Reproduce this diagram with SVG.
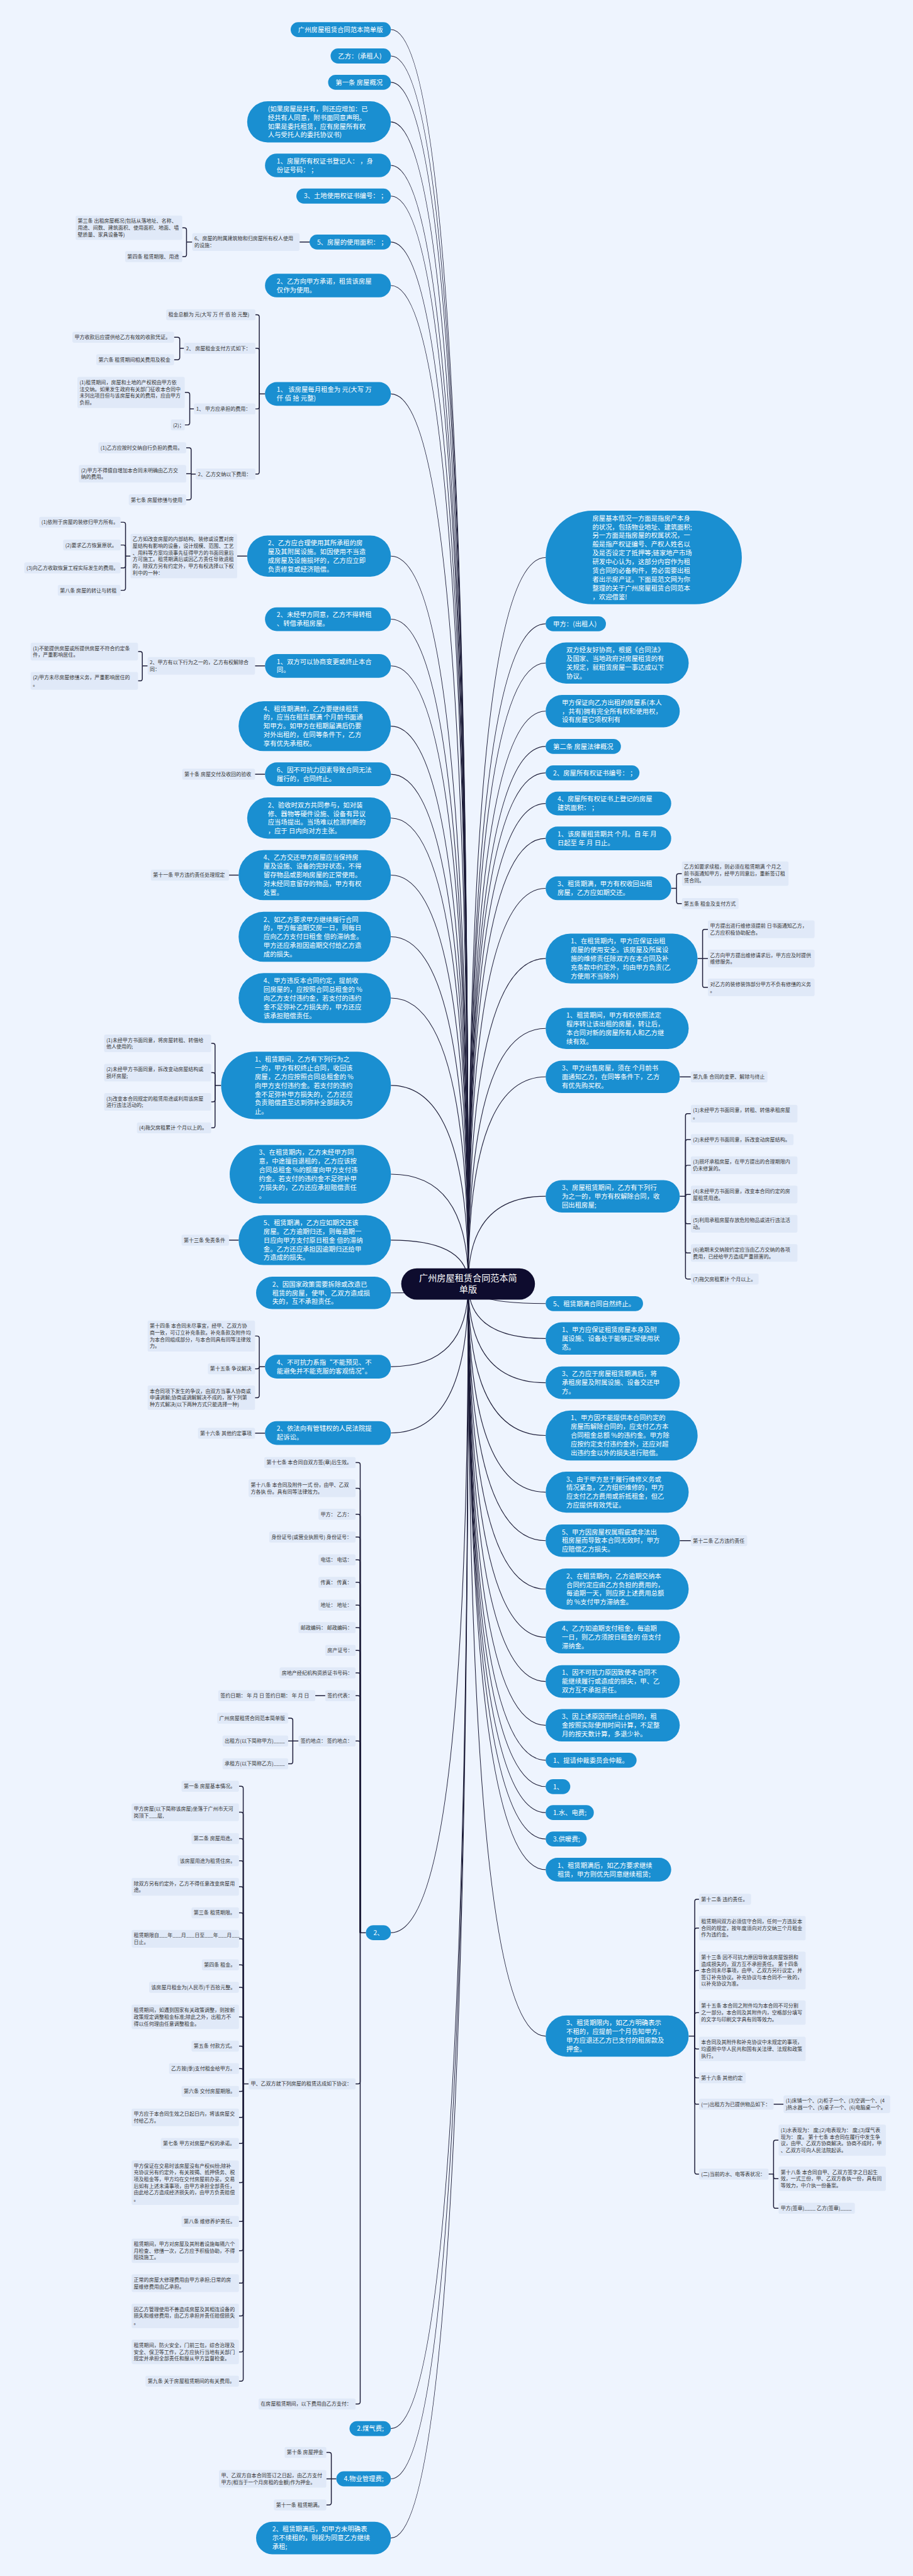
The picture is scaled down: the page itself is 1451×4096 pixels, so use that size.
<svg xmlns="http://www.w3.org/2000/svg" width="1451" height="4096" viewBox="0 0 1451 4096">
<style>
.bn{fill:#1a8fd1}
.cnode{fill:#0e0c2e}
.lf{fill:#e0e9f8}
.bt{font-family:"Noto Sans CJK SC","Noto Sans",sans-serif;font-size:18.3px;fill:#ffffff}
.lt{font-family:"Noto Sans CJK SC","Noto Sans",sans-serif;font-size:14.2px;fill:#333333}
.ct{font-family:"Noto Sans CJK SC","Noto Sans",sans-serif;font-size:25px;fill:#ffffff;text-anchor:middle}
.cn path{fill:none;stroke:#1c1c38;stroke-width:2}
.br path{fill:none;stroke:#1c1c38;stroke-width:2.6}
</style>
<rect x="0" y="0" width="1451" height="4096" fill="#eef4fe"/>
<g transform="scale(0.5668)">
<g id="connectors">
<g class="cn">
<path d="M1313 3602Q1313 83 1096 83"/><path d="M1313 3602Q1313 157 1096 157"/><path d="M1313 3602Q1313 231 1096 231"/><path d="M1313 3602Q1313 342 1096 342"/><path d="M1313 3602Q1313 464 1096 464"/><path d="M1313 3602Q1313 550 1096 550"/><path d="M1313 3602Q1313 679 1096 679"/><path d="M1313 3602Q1313 801 1096 801"/><path d="M1313 3602Q1313 1105 1096 1105"/><path d="M1313 3602Q1313 1560 1096 1560"/><path d="M1313 3602Q1313 1737 1096 1737"/><path d="M1313 3602Q1313 1868 1096 1868"/><path d="M1313 3602Q1313 2037 1096 2037"/><path d="M1313 3602Q1313 2172 1096 2172"/><path d="M1313 3602Q1313 2295 1096 2295"/><path d="M1313 3602Q1313 2455 1096 2455"/><path d="M1313 3602Q1313 2628 1096 2628"/><path d="M1313 3602Q1313 2800 1096 2800"/><path d="M1313 3602Q1313 3045 1096 3045"/><path d="M1313 3602Q1313 3294 1096 3294"/><path d="M1313 3602Q1313 3479 1096 3479"/><path d="M1313 3602Q1313 3627 1096 3627"/><path d="M1313 3602Q1313 3834 1096 3834"/><path d="M1313 3602Q1313 4020 1096 4020"/><path d="M1313 3602Q1313 5422 1096 5422"/><path d="M1313 3602Q1313 6813 1096 6813"/><path d="M1313 3602Q1313 6954 1096 6954"/><path d="M1313 3602Q1313 7120 1096 7120"/>
<path d="M1313 3602Q1313 1564 1530 1564"/><path d="M1313 3602Q1313 1750 1530 1750"/><path d="M1313 3602Q1313 1860 1530 1860"/><path d="M1313 3602Q1313 1995 1530 1995"/><path d="M1313 3602Q1313 2094 1530 2094"/><path d="M1313 3602Q1313 2168 1530 2168"/><path d="M1313 3602Q1313 2254 1530 2254"/><path d="M1313 3602Q1313 2352 1530 2352"/><path d="M1313 3602Q1313 2492 1530 2492"/><path d="M1313 3602Q1313 2689 1530 2689"/><path d="M1313 3602Q1313 2885 1530 2885"/><path d="M1313 3602Q1313 3021 1530 3021"/><path d="M1313 3602Q1313 3356 1530 3356"/><path d="M1313 3602Q1313 3657 1530 3657"/><path d="M1313 3602Q1313 3755 1530 3755"/><path d="M1313 3602Q1313 3879 1530 3879"/><path d="M1313 3602Q1313 4027 1530 4027"/><path d="M1313 3602Q1313 4186 1530 4186"/><path d="M1313 3602Q1313 4322 1530 4322"/><path d="M1313 3602Q1313 4458 1530 4458"/><path d="M1313 3602Q1313 4593 1530 4593"/><path d="M1313 3602Q1313 4717 1530 4717"/><path d="M1313 3602Q1313 4840 1530 4840"/><path d="M1313 3602Q1313 4938 1530 4938"/><path d="M1313 3602Q1313 5012 1530 5012"/><path d="M1313 3602Q1313 5085 1530 5085"/><path d="M1313 3602Q1313 5159 1530 5159"/><path d="M1313 3602Q1313 5245 1530 5245"/><path d="M1313 3602Q1313 5712 1530 5712"/>
</g>
<g class="br">
<path d="M840 679H868"/>
<path d="M511 639H517Q523 639 523 645V679"/><path d="M511 720H517Q523 720 523 714V679"/><path d="M523 679H539"/>
<path d="M716 883H721Q727 883 727 889V1105"/><path d="M716 977H721Q727 977 727 983V1105"/><path d="M716 1147H721Q727 1147 727 1141V1105"/><path d="M716 1330H721Q727 1330 727 1324V1105"/><path d="M727 1105H743"/>
<path d="M488 946H498Q504 946 504 952V977"/><path d="M488 1009H498Q504 1009 504 1003V977"/><path d="M504 977H516"/>
<path d="M518 1101H526Q532 1101 532 1107V1147"/><path d="M518 1192H526Q532 1192 532 1186V1147"/><path d="M532 1147H544"/>
<path d="M522 1256H530Q536 1256 536 1262V1330"/><path d="M522 1329H536"/><path d="M522 1402H530Q536 1402 536 1396V1330"/><path d="M536 1330H549"/>
<path d="M665 1560H693"/>
<path d="M338 1465H346Q352 1465 352 1471V1560"/><path d="M338 1529H346Q352 1529 352 1535V1560"/><path d="M338 1593H346Q352 1593 352 1587V1560"/><path d="M338 1656H346Q352 1656 352 1650V1560"/><path d="M352 1560H366"/>
<path d="M715 1868H743"/>
<path d="M387 1828H393Q399 1828 399 1834V1868"/><path d="M387 1910H393Q399 1910 399 1904V1868"/><path d="M399 1868H414"/>
<path d="M715 2172H743"/>
<path d="M642 2455H669"/>
<path d="M592 2927H597Q603 2927 603 2933V3045"/><path d="M592 3009H597Q603 3009 603 3015V3045"/><path d="M592 3091H597Q603 3091 603 3085V3045"/><path d="M592 3164H597Q603 3164 603 3158V3045"/><path d="M603 3045H620"/>
<path d="M642 3479H669"/>
<path d="M715 3748H721Q727 3748 727 3754V3834"/><path d="M715 3840H721Q727 3840 727 3834"/><path d="M715 3921H721Q727 3921 727 3915V3834"/><path d="M727 3834H743"/>
<path d="M715 4020.5H743"/>
<path d="M997 4103H1004Q1010 4103 1010 4109V5422"/><path d="M997 4175H1004Q1010 4175 1010 4181V5422"/><path d="M997 4248H1004Q1010 4248 1010 4254V5422"/><path d="M997 4312H1004Q1010 4312 1010 4318V5422"/><path d="M997 4376H1004Q1010 4376 1010 4382V5422"/><path d="M997 4439H1004Q1010 4439 1010 4445V5422"/><path d="M997 4503H1004Q1010 4503 1010 4509V5422"/><path d="M997 4566H1004Q1010 4566 1010 4572V5422"/><path d="M997 4630H1004Q1010 4630 1010 4636V5422"/><path d="M997 4693H1004Q1010 4693 1010 4699V5422"/><path d="M997 4757H1004Q1010 4757 1010 4763V5422"/><path d="M997 4884H1004Q1010 4884 1010 4890V5422"/><path d="M997 5846H1004Q1010 5846 1010 5840V5422"/><path d="M997 6744H1004Q1010 6744 1010 6738V5422"/><path d="M1010 5422H1026"/>
<path d="M884 4757H912"/>
<path d="M808 4820H815Q821 4820 821 4826V4884"/><path d="M808 4884H837"/><path d="M808 4948H815Q821 4948 821 4942V4884"/>
<path d="M670 5011H676Q682 5011 682 5017V5846"/><path d="M670 5084H676Q682 5084 682 5090V5846"/><path d="M670 5158H676Q682 5158 682 5164V5846"/><path d="M670 5220H676Q682 5220 682 5226V5846"/><path d="M670 5293H676Q682 5293 682 5299V5846"/><path d="M670 5366H676Q682 5366 682 5372V5846"/><path d="M670 5439H676Q682 5439 682 5445V5846"/><path d="M670 5512H676Q682 5512 682 5518V5846"/><path d="M670 5575H676Q682 5575 682 5581V5846"/><path d="M670 5658H676Q682 5658 682 5664V5846"/><path d="M670 5740H676Q682 5740 682 5746V5846"/><path d="M670 5803H676Q682 5803 682 5809V5846"/><path d="M670 5867H676Q682 5867 682 5861V5846"/><path d="M670 5940H676Q682 5940 682 5934V5846"/><path d="M670 6013H676Q682 6013 682 6007V5846"/><path d="M670 6123H676Q682 6123 682 6117V5846"/><path d="M670 6232H676Q682 6232 682 6226V5846"/><path d="M670 6314H676Q682 6314 682 6308V5846"/><path d="M670 6405H676Q682 6405 682 6399V5846"/><path d="M670 6497H676Q682 6497 682 6491V5846"/><path d="M670 6598H676Q682 6598 682 6592V5846"/><path d="M670 6680H676Q682 6680 682 6674V5846"/><path d="M682 5846H697"/>
<path d="M915 6880H923Q929 6880 929 6886V6954"/><path d="M915 6954H943"/><path d="M915 7027H923Q929 7027 929 7021V6954"/>
<path d="M1912 2451H1903Q1897 2451 1897 2457V2492"/><path d="M1912 2535H1903Q1897 2535 1897 2529V2492"/><path d="M1882 2492H1897"/>
<path d="M1985 2607H1976Q1970 2607 1970 2613V2689"/><path d="M1985 2689H1956"/><path d="M1985 2770H1976Q1970 2770 1970 2764V2689"/>
<path d="M1906 3021H1937"/>
<path d="M1937 3124H1928Q1922 3124 1922 3130V3356"/><path d="M1937 3197H1928Q1922 3197 1922 3203V3356"/><path d="M1937 3269H1928Q1922 3269 1922 3275V3356"/><path d="M1937 3351H1927Q1922 3351 1922 3356"/><path d="M1937 3433H1928Q1922 3433 1922 3427V3356"/><path d="M1937 3515H1928Q1922 3515 1922 3509V3356"/><path d="M1937 3588H1928Q1922 3588 1922 3582V3356"/><path d="M1906 3356H1922"/>
<path d="M1906 4322H1937"/>
<path d="M1960 5328H1954Q1948 5328 1948 5334V5712"/><path d="M1960 5409H1954Q1948 5409 1948 5415V5712"/><path d="M1960 5528H1954Q1948 5528 1948 5534V5712"/><path d="M1960 5646H1954Q1948 5646 1948 5652V5712"/><path d="M1960 5748H1954Q1948 5748 1948 5742V5712"/><path d="M1960 5829H1954Q1948 5829 1948 5823V5712"/><path d="M1960 5903H1954Q1948 5903 1948 5897V5712"/><path d="M1960 6099H1954Q1948 6099 1948 6093V5712"/><path d="M1931 5712H1948"/>
<path d="M2169 5903H2197"/>
<path d="M2183 6004H2175Q2169 6004 2169 6010V6099"/><path d="M2183 6112H2175Q2169 6112 2169 6106V6099"/><path d="M2183 6195H2175Q2169 6195 2169 6189V6099"/><path d="M2155 6099H2169"/>
</g>
</g>
<g id="nodes">
<g id="center"><rect class="cnode" x="1125" y="3558" width="375" height="88" rx="44"/><text class="ct" x="1312.5" y="3594"><tspan x="1312.5">广州房屋租赁合同范本简</tspan><tspan x="1312.5" dy="32">单版</tspan></text></g>

<g id="L1"><rect class="bn" x="815" y="62" width="281" height="42" rx="21"/><text class="bt" x="836" y="89.6">广州房屋租赁合同范本简单版</text></g>
<g id="L2"><rect class="bn" x="927" y="136" width="169" height="42" rx="21"/><text class="bt" x="948" y="163.6">乙方：(承租人)</text></g>
<g id="L3"><rect class="bn" x="920" y="210" width="176" height="42" rx="21"/><text class="bt" x="941" y="237.6">第一条 房屋概况</text></g>
<g id="L4"><rect class="bn" x="693" y="284.25" width="403" height="115.5" rx="57.75"/><text class="bt" x="751" y="311.85"><tspan x="751">(如果房屋是共有，则还应增加：已</tspan><tspan x="751" dy="24.5">经共有人同意，附书面同意声明。</tspan><tspan x="751" dy="24.5">如果是委托租赁，应有房屋所有权</tspan><tspan x="751" dy="24.5">人与受托人的委托协议书)</tspan></text></g>
<g id="L5"><rect class="bn" x="743" y="430.75" width="353" height="66.5" rx="33.25"/><text class="bt" x="776" y="458.35"><tspan x="776">1、房屋所有权证书登记人： ，身</tspan><tspan x="776" dy="24.5">份证号码： ；</tspan></text></g>
<g id="L6"><rect class="bn" x="831" y="529" width="265" height="42" rx="21"/><text class="bt" x="852" y="556.6">3、土地使用权证书编号： ；</text></g>
<g id="L7"><rect class="bn" x="868" y="658" width="228" height="42" rx="21"/><text class="bt" x="889" y="685.6">5、房屋的使用面积： ；</text></g>
<g id="L8"><rect class="bn" x="743" y="767.75" width="353" height="66.5" rx="33.25"/><text class="bt" x="776" y="795.35"><tspan x="776">2、乙方向甲方承诺，租赁该房屋</tspan><tspan x="776" dy="24.5">仅作为使用。</tspan></text></g>
<g id="L9"><rect class="bn" x="743" y="1071.75" width="353" height="66.5" rx="33.25"/><text class="bt" x="776" y="1099.35"><tspan x="776">1、 该房屋每月租金为 元(大写 万</tspan><tspan x="776" dy="24.5">仟 佰 拾 元整)</tspan></text></g>
<g id="L10"><rect class="bn" x="693" y="1502.25" width="403" height="115.5" rx="57.75"/><text class="bt" x="751" y="1529.85"><tspan x="751">2、乙方应合理使用其所承租的房</tspan><tspan x="751" dy="24.5">屋及其附属设施。如因使用不当造</tspan><tspan x="751" dy="24.5">成房屋及设施损坏的，乙方应立即</tspan><tspan x="751" dy="24.5">负责修复或经济赔偿。</tspan></text></g>
<g id="L11"><rect class="bn" x="743" y="1703.75" width="353" height="66.5" rx="33.25"/><text class="bt" x="776" y="1731.35"><tspan x="776">2、未经甲方同意，乙方不得转租</tspan><tspan x="776" dy="24.5">、转借承租房屋。</tspan></text></g>
<g id="L12"><rect class="bn" x="743" y="1834.75" width="353" height="66.5" rx="33.25"/><text class="bt" x="776" y="1862.35"><tspan x="776">1、双方可以协商变更或终止本合</tspan><tspan x="776" dy="24.5">同。</tspan></text></g>
<g id="L13"><rect class="bn" x="669" y="1967" width="427" height="140" rx="70"/><text class="bt" x="739" y="1994.6"><tspan x="739">4、租赁期满前，乙方要继续租赁</tspan><tspan x="739" dy="24.5">的，应当在租赁期满 个月前书面通</tspan><tspan x="739" dy="24.5">知甲方。如甲方在租期届满后仍要</tspan><tspan x="739" dy="24.5">对外出租的，在同等条件下，乙方</tspan><tspan x="739" dy="24.5">享有优先承租权。</tspan></text></g>
<g id="L14"><rect class="bn" x="743" y="2138.75" width="353" height="66.5" rx="33.25"/><text class="bt" x="776" y="2166.35"><tspan x="776">6、因不可抗力因素导致合同无法</tspan><tspan x="776" dy="24.5">履行的，合同终止。</tspan></text></g>
<g id="L15"><rect class="bn" x="693" y="2237.25" width="403" height="115.5" rx="57.75"/><text class="bt" x="751" y="2264.85"><tspan x="751">2、验收时双方共同参与，如对装</tspan><tspan x="751" dy="24.5">修、器物等硬件设施、设备有异议</tspan><tspan x="751" dy="24.5">应当场提出。当场难以检测判断的</tspan><tspan x="751" dy="24.5">，应于 日内向对方主张。</tspan></text></g>
<g id="L16"><rect class="bn" x="669" y="2385" width="427" height="140" rx="70"/><text class="bt" x="739" y="2412.6"><tspan x="739">4、乙方交还甲方房屋应当保持房</tspan><tspan x="739" dy="24.5">屋及设施、设备的完好状态，不得</tspan><tspan x="739" dy="24.5">留存物品或影响房屋的正常使用。</tspan><tspan x="739" dy="24.5">对未经同意留存的物品，甲方有权</tspan><tspan x="739" dy="24.5">处置。</tspan></text></g>
<g id="L17"><rect class="bn" x="669" y="2558" width="427" height="140" rx="70"/><text class="bt" x="739" y="2585.6"><tspan x="739">2、如乙方要求甲方继续履行合同</tspan><tspan x="739" dy="24.5">的，甲方每逾期交房一日，则每日</tspan><tspan x="739" dy="24.5">应向乙方支付日租金 倍的滞纳金。</tspan><tspan x="739" dy="24.5">甲方还应承担因逾期交付给乙方造</tspan><tspan x="739" dy="24.5">成的损失。</tspan></text></g>
<g id="L18"><rect class="bn" x="669" y="2730" width="427" height="140" rx="70"/><text class="bt" x="739" y="2757.6"><tspan x="739">4、甲方违反本合同约定，提前收</tspan><tspan x="739" dy="24.5">回房屋的，应按照合同总租金的 %</tspan><tspan x="739" dy="24.5">向乙方支付违约金，若支付的违约</tspan><tspan x="739" dy="24.5">金不足弥补乙方损失的，甲方还应</tspan><tspan x="739" dy="24.5">该承担赔偿责任。</tspan></text></g>
<g id="L19"><rect class="bn" x="620" y="2950.5" width="476" height="189" rx="94.5"/><text class="bt" x="714.5" y="2978.1"><tspan x="714.5">1、租赁期间，乙方有下列行为之</tspan><tspan x="714.5" dy="24.5">一的，甲方有权终止合同，收回该</tspan><tspan x="714.5" dy="24.5">房屋，乙方应按照合同总租金的 %</tspan><tspan x="714.5" dy="24.5">向甲方支付违约金。若支付的违约</tspan><tspan x="714.5" dy="24.5">金不足弥补甲方损失的，乙方还应</tspan><tspan x="714.5" dy="24.5">负责赔偿直至达到弥补全部损失为</tspan><tspan x="714.5" dy="24.5">止。</tspan></text></g>
<g id="L20"><rect class="bn" x="644" y="3211.75" width="452" height="164.5" rx="82.25"/><text class="bt" x="726" y="3239.35"><tspan x="726">3、在租赁期内，乙方未经甲方同</tspan><tspan x="726" dy="24.5">意，中途擅自退租的，乙方应该按</tspan><tspan x="726" dy="24.5">合同总租金 %的额度向甲方支付违</tspan><tspan x="726" dy="24.5">约金。若支付的违约金不足弥补甲</tspan><tspan x="726" dy="24.5">方损失的，乙方还应承担赔偿责任</tspan><tspan x="726" dy="24.5">。</tspan></text></g>
<g id="L21"><rect class="bn" x="669" y="3409" width="427" height="140" rx="70"/><text class="bt" x="739" y="3436.6"><tspan x="739">5、租赁期满，乙方应如期交还该</tspan><tspan x="739" dy="24.5">房屋。乙方逾期归还，则每逾期一</tspan><tspan x="739" dy="24.5">日应向甲方支付原日租金 倍的滞纳</tspan><tspan x="739" dy="24.5">金。乙方还应承担因逾期归还给甲</tspan><tspan x="739" dy="24.5">方造成的损失。</tspan></text></g>
<g id="L22"><rect class="bn" x="718" y="3581.5" width="378" height="91" rx="45.5"/><text class="bt" x="763.5" y="3609.1"><tspan x="763.5">2、因国家政策需要拆除或改造已</tspan><tspan x="763.5" dy="24.5">租赁的房屋，使甲、乙双方造成损</tspan><tspan x="763.5" dy="24.5">失的，互不承担责任。</tspan></text></g>
<g id="L23"><rect class="bn" x="743" y="3800.75" width="353" height="66.5" rx="33.25"/><text class="bt" x="776" y="3828.35"><tspan x="776">4、不可抗力系指“不能预见、不</tspan><tspan x="776" dy="24.5">能避免并不能克服的客观情况”。</tspan></text></g>
<g id="L24"><rect class="bn" x="743" y="3986.75" width="353" height="66.5" rx="33.25"/><text class="bt" x="776" y="4014.35"><tspan x="776">2、依法向有管辖权的人民法院提</tspan><tspan x="776" dy="24.5">起诉讼。</tspan></text></g>
<g id="L25"><rect class="bn" x="1026" y="5401" width="70" height="42" rx="21"/><text class="bt" x="1047" y="5428.6">2、</text></g>
<g id="L26"><rect class="bn" x="980" y="6792" width="116" height="42" rx="21"/><text class="bt" x="1001" y="6819.6">2.煤气费;</text></g>
<g id="L27"><rect class="bn" x="943" y="6933" width="153" height="42" rx="21"/><text class="bt" x="964" y="6960.6">4.物业管理费;</text></g>
<g id="L28"><rect class="bn" x="718" y="7074.5" width="378" height="91" rx="45.5"/><text class="bt" x="763.5" y="7102.1"><tspan x="763.5">2、租赁期满后，如甲方未明确表</tspan><tspan x="763.5" dy="24.5">示不续租的，则视为同意乙方继续</tspan><tspan x="763.5" dy="24.5">承租;</tspan></text></g>

<g id="R1"><rect class="bn" x="1530" y="1432.75" width="550" height="262.5" rx="131.25"/><text class="bt" x="1661" y="1460.35"><tspan x="1661">房屋基本情况一方面是指房产本身</tspan><tspan x="1661" dy="24.5">的状况，包括物业地址、建筑面积;</tspan><tspan x="1661" dy="24.5">另一方面是指房屋的权属状况，一</tspan><tspan x="1661" dy="24.5">般是指产权证编号、产权人姓名以</tspan><tspan x="1661" dy="24.5">及是否设定了抵押等;链家地产市场</tspan><tspan x="1661" dy="24.5">研发中心认为，这部分内容作为租</tspan><tspan x="1661" dy="24.5">赁合同的必备构件，势必需要出租</tspan><tspan x="1661" dy="24.5">者出示房产证。下面是范文网为你</tspan><tspan x="1661" dy="24.5">整理的关于广州房屋租赁合同范本</tspan><tspan x="1661" dy="24.5">，欢迎借鉴!</tspan></text></g>
<g id="R2"><rect class="bn" x="1530" y="1729" width="169" height="42" rx="21"/><text class="bt" x="1551" y="1756.6">甲方：(出租人)</text></g>
<g id="R3"><rect class="bn" x="1530" y="1802.25" width="401" height="115.5" rx="57.75"/><text class="bt" x="1588" y="1829.85"><tspan x="1588">双方经友好协商，根据《合同法》</tspan><tspan x="1588" dy="24.5">及国家、当地政府对房屋租赁的有</tspan><tspan x="1588" dy="24.5">关规定，就租赁房屋一事达成以下</tspan><tspan x="1588" dy="24.5">协议。</tspan></text></g>
<g id="R4"><rect class="bn" x="1530" y="1949.5" width="376" height="91" rx="45.5"/><text class="bt" x="1575.5" y="1977.1"><tspan x="1575.5">甲方保证向乙方出租的房屋系(本人</tspan><tspan x="1575.5" dy="24.5">，共有)拥有完全所有权和使用权，</tspan><tspan x="1575.5" dy="24.5">设有房屋它项权利有</tspan></text></g>
<g id="R5"><rect class="bn" x="1530" y="2073" width="211" height="42" rx="21"/><text class="bt" x="1551" y="2100.6">第二条 房屋法律概况</text></g>
<g id="R6"><rect class="bn" x="1530" y="2147" width="263" height="42" rx="21"/><text class="bt" x="1551" y="2174.6">2、房屋所有权证书编号： ；</text></g>
<g id="R7"><rect class="bn" x="1530" y="2220.75" width="352" height="66.5" rx="33.25"/><text class="bt" x="1563" y="2248.35"><tspan x="1563">4、房屋所有权证书上登记的房屋</tspan><tspan x="1563" dy="24.5">建筑面积： ；</tspan></text></g>
<g id="R8"><rect class="bn" x="1530" y="2318.75" width="352" height="66.5" rx="33.25"/><text class="bt" x="1563" y="2346.35"><tspan x="1563">1、该房屋租赁期共 个月。自 年 月</tspan><tspan x="1563" dy="24.5">日起至 年 月 日止。</tspan></text></g>
<g id="R9"><rect class="bn" x="1530" y="2458.75" width="352" height="66.5" rx="33.25"/><text class="bt" x="1563" y="2486.35"><tspan x="1563">3、租赁期满，甲方有权收回出租</tspan><tspan x="1563" dy="24.5">房屋，乙方应如期交还。</tspan></text></g>
<g id="R10"><rect class="bn" x="1530" y="2619" width="426" height="140" rx="70"/><text class="bt" x="1600" y="2646.6"><tspan x="1600">1、在租赁期内，甲方应保证出租</tspan><tspan x="1600" dy="24.5">房屋的使用安全。该房屋及所属设</tspan><tspan x="1600" dy="24.5">施的维修责任除双方在本合同及补</tspan><tspan x="1600" dy="24.5">充条款中约定外，均由甲方负责(乙</tspan><tspan x="1600" dy="24.5">方使用不当除外)</tspan></text></g>
<g id="R11"><rect class="bn" x="1530" y="2827.25" width="401" height="115.5" rx="57.75"/><text class="bt" x="1588" y="2854.85"><tspan x="1588">1、租赁期间，甲方有权依照法定</tspan><tspan x="1588" dy="24.5">程序转让该出租的房屋，转让后，</tspan><tspan x="1588" dy="24.5">本合同对新的房屋所有人和乙方继</tspan><tspan x="1588" dy="24.5">续有效。</tspan></text></g>
<g id="R12"><rect class="bn" x="1530" y="2975.5" width="376" height="91" rx="45.5"/><text class="bt" x="1575.5" y="3003.1"><tspan x="1575.5">3、甲方出售房屋，须在 个月前书</tspan><tspan x="1575.5" dy="24.5">面通知乙方，在同等条件下，乙方</tspan><tspan x="1575.5" dy="24.5">有优先购买权。</tspan></text></g>
<g id="R13"><rect class="bn" x="1530" y="3310.5" width="376" height="91" rx="45.5"/><text class="bt" x="1575.5" y="3338.1"><tspan x="1575.5">3、房屋租赁期间，乙方有下列行</tspan><tspan x="1575.5" dy="24.5">为之一的，甲方有权解除合同，收</tspan><tspan x="1575.5" dy="24.5">回出租房屋;</tspan></text></g>
<g id="R14"><rect class="bn" x="1530" y="3636" width="273" height="42" rx="21"/><text class="bt" x="1551" y="3663.6">5、租赁期满合同自然终止。</text></g>
<g id="R15"><rect class="bn" x="1530" y="3709.5" width="376" height="91" rx="45.5"/><text class="bt" x="1575.5" y="3737.1"><tspan x="1575.5">1、甲方应保证租赁房屋本身及附</tspan><tspan x="1575.5" dy="24.5">属设施、设备处于能够正常使用状</tspan><tspan x="1575.5" dy="24.5">态。</tspan></text></g>
<g id="R16"><rect class="bn" x="1530" y="3833.5" width="376" height="91" rx="45.5"/><text class="bt" x="1575.5" y="3861.1"><tspan x="1575.5">3、乙方应于房屋租赁期满后，将</tspan><tspan x="1575.5" dy="24.5">承租房屋及附属设施、设备交还甲</tspan><tspan x="1575.5" dy="24.5">方。</tspan></text></g>
<g id="R17"><rect class="bn" x="1530" y="3957" width="426" height="140" rx="70"/><text class="bt" x="1600" y="3984.6"><tspan x="1600">1、甲方因不能提供本合同约定的</tspan><tspan x="1600" dy="24.5">房屋而解除合同的，应支付乙方本</tspan><tspan x="1600" dy="24.5">合同租金总额 %的违约金。甲方除</tspan><tspan x="1600" dy="24.5">应按约定支付违约金外，还应对超</tspan><tspan x="1600" dy="24.5">出违约金以外的损失进行赔偿。</tspan></text></g>
<g id="R18"><rect class="bn" x="1530" y="4128.25" width="401" height="115.5" rx="57.75"/><text class="bt" x="1588" y="4155.85"><tspan x="1588">3、由于甲方怠于履行维修义务或</tspan><tspan x="1588" dy="24.5">情况紧急，乙方组织维修的，甲方</tspan><tspan x="1588" dy="24.5">应支付乙方费用或折抵租金，但乙</tspan><tspan x="1588" dy="24.5">方应提供有效凭证。</tspan></text></g>
<g id="R19"><rect class="bn" x="1530" y="4276.5" width="376" height="91" rx="45.5"/><text class="bt" x="1575.5" y="4304.1"><tspan x="1575.5">5、甲方因房屋权属瑕疵或非法出</tspan><tspan x="1575.5" dy="24.5">租房屋而导致本合同无效时，甲方</tspan><tspan x="1575.5" dy="24.5">应赔偿乙方损失。</tspan></text></g>
<g id="R20"><rect class="bn" x="1530" y="4400.25" width="401" height="115.5" rx="57.75"/><text class="bt" x="1588" y="4427.85"><tspan x="1588">2、在租赁期内，乙方逾期交纳本</tspan><tspan x="1588" dy="24.5">合同约定应由乙方负担的费用的，</tspan><tspan x="1588" dy="24.5">每逾期一天，则应按上述费用总额</tspan><tspan x="1588" dy="24.5">的 %支付甲方滞纳金。</tspan></text></g>
<g id="R21"><rect class="bn" x="1530" y="4547.5" width="376" height="91" rx="45.5"/><text class="bt" x="1575.5" y="4575.1"><tspan x="1575.5">4、乙方如逾期支付租金，每逾期</tspan><tspan x="1575.5" dy="24.5">一日，则乙方须按日租金的 倍支付</tspan><tspan x="1575.5" dy="24.5">滞纳金。</tspan></text></g>
<g id="R22"><rect class="bn" x="1530" y="4671.5" width="376" height="91" rx="45.5"/><text class="bt" x="1575.5" y="4699.1"><tspan x="1575.5">1、因不可抗力原因致使本合同不</tspan><tspan x="1575.5" dy="24.5">能继续履行或造成的损失，甲、乙</tspan><tspan x="1575.5" dy="24.5">双方互不承担责任。</tspan></text></g>
<g id="R23"><rect class="bn" x="1530" y="4794.5" width="376" height="91" rx="45.5"/><text class="bt" x="1575.5" y="4822.1"><tspan x="1575.5">3、因上述原因而终止合同的，租</tspan><tspan x="1575.5" dy="24.5">金按照实际使用时间计算，不足整</tspan><tspan x="1575.5" dy="24.5">月的按天数计算，多退少补。</tspan></text></g>
<g id="R24"><rect class="bn" x="1530" y="4917" width="255" height="42" rx="21"/><text class="bt" x="1551" y="4944.6">1、提请仲裁委员会仲裁。</text></g>
<g id="R25"><rect class="bn" x="1530" y="4991" width="69" height="42" rx="21"/><text class="bt" x="1551" y="5018.6">1、</text></g>
<g id="R26"><rect class="bn" x="1530" y="5064" width="135" height="42" rx="21"/><text class="bt" x="1551" y="5091.6">1.水、电费;</text></g>
<g id="R27"><rect class="bn" x="1530" y="5138" width="115" height="42" rx="21"/><text class="bt" x="1551" y="5165.6">3.供暖费;</text></g>
<g id="R28"><rect class="bn" x="1530" y="5211.75" width="352" height="66.5" rx="33.25"/><text class="bt" x="1563" y="5239.35"><tspan x="1563">1、租赁期满后，如乙方要求继续</tspan><tspan x="1563" dy="24.5">租赁，甲方则优先同意继续租赁;</tspan></text></g>
<g id="R29"><rect class="bn" x="1530" y="5654.25" width="401" height="115.5" rx="57.75"/><text class="bt" x="1588" y="5681.85"><tspan x="1588">3、租赁期限内，如乙方明确表示</tspan><tspan x="1588" dy="24.5">不租的，应提前一个月告知甲方，</tspan><tspan x="1588" dy="24.5">甲方应退还乙方已支付的租房款及</tspan><tspan x="1588" dy="24.5">押金。</tspan></text></g>

<g id="a1"><rect class="lf" x="539" y="654.2" width="301" height="49.6" rx="5"/><text class="lt" x="545" y="674.7"><tspan x="545">6、房屋的附属建筑物和归房屋所有权人使用</tspan><tspan x="545" dy="18.8">的设施：</tspan></text></g>
<g id="a2"><rect class="lf" x="212" y="604.8" width="299" height="68.4" rx="5"/><text class="lt" x="218" y="625.3"><tspan x="218">第三条 出租房屋概况(包括从落地址、名称、</tspan><tspan x="218" dy="18.8">用途、间数、建筑面积、使用面积、地面、墙</tspan><tspan x="218" dy="18.8">壁质量、家具设备等)</tspan></text></g>
<g id="a3"><rect class="lf" x="351" y="704.6" width="160" height="30.8" rx="5"/><text class="lt" x="357" y="725.1">第四条 租赁期限、用途</text></g>
<g id="b1"><rect class="lf" x="466" y="867.6" width="250" height="30.8" rx="5"/><text class="lt" x="472" y="888.1">租金总额为 元(大写 万 仟 佰 拾 元整)</text></g>
<g id="b2"><rect class="lf" x="516" y="961.6" width="200" height="30.8" rx="5"/><text class="lt" x="522" y="982.1">2、 房屋租金支付方式如下：</text></g>
<g id="b3"><rect class="lf" x="203" y="930.6" width="285" height="30.8" rx="5"/><text class="lt" x="209" y="951.1">甲方收款后应提供给乙方有效的收款凭证。</text></g>
<g id="b4"><rect class="lf" x="270" y="993.6" width="218" height="30.8" rx="5"/><text class="lt" x="276" y="1014.1">第六条 租赁期间相关费用及税金</text></g>
<g id="b5"><rect class="lf" x="544" y="1131.6" width="172" height="30.8" rx="5"/><text class="lt" x="550" y="1152.1">1、 甲方应承担的费用：</text></g>
<g id="b6"><rect class="lf" x="217" y="1057.4" width="301" height="87.2" rx="5"/><text class="lt" x="223" y="1077.9"><tspan x="223">(1)租赁期间，房屋和土地的产权税由甲方依</tspan><tspan x="223" dy="18.8">法交纳。如果发生政府有关部门征收本合同中</tspan><tspan x="223" dy="18.8">未列出项目但与该房屋有关的费用，应由甲方</tspan><tspan x="223" dy="18.8">负担。</tspan></text></g>
<g id="b7"><rect class="lf" x="479" y="1176.6" width="39" height="30.8" rx="5"/><text class="lt" x="485" y="1197.1">(2)；</text></g>
<g id="b8"><rect class="lf" x="549" y="1314.6" width="167" height="30.8" rx="5"/><text class="lt" x="555" y="1335.1">2、乙方交纳以下费用：</text></g>
<g id="b9"><rect class="lf" x="276" y="1240.6" width="246" height="30.8" rx="5"/><text class="lt" x="282" y="1261.1">(1)乙方应按时交纳自行负担的费用。</text></g>
<g id="b10"><rect class="lf" x="221" y="1304.2" width="301" height="49.6" rx="5"/><text class="lt" x="227" y="1324.7"><tspan x="227">(2)甲方不得擅自增加本合同未明确由乙方交</tspan><tspan x="227" dy="18.8">纳的费用。</tspan></text></g>
<g id="b11"><rect class="lf" x="361" y="1386.6" width="161" height="30.8" rx="5"/><text class="lt" x="367" y="1407.1">第七条 房屋修缮与使用</text></g>
<g id="c1"><rect class="lf" x="366" y="1497.6" width="299" height="124.8" rx="5"/><text class="lt" x="372" y="1518.1"><tspan x="372">乙方如改变房屋的内部结构、装修或设置对房</tspan><tspan x="372" dy="18.8">屋结构有影响的设备，设计规模、范围、工艺</tspan><tspan x="372" dy="18.8">、用料等方案均须事先征得甲方的书面同意后</tspan><tspan x="372" dy="18.8">方可施工。租赁期满后或因乙方责任导致退租</tspan><tspan x="372" dy="18.8">的，除双方另有约定外，甲方有权选择以下权</tspan><tspan x="372" dy="18.8">利中的一种：</tspan></text></g>
<g id="c2"><rect class="lf" x="110" y="1449.6" width="228" height="30.8" rx="5"/><text class="lt" x="116" y="1470.1">(1)依附于房屋的装修归甲方所有。</text></g>
<g id="c3"><rect class="lf" x="177" y="1513.6" width="161" height="30.8" rx="5"/><text class="lt" x="183" y="1534.1">(2)要求乙方恢复原状。</text></g>
<g id="c4"><rect class="lf" x="68" y="1577.6" width="270" height="30.8" rx="5"/><text class="lt" x="74" y="1598.1">(3)向乙方收取恢复工程实际发生的费用。</text></g>
<g id="c5"><rect class="lf" x="162" y="1640.6" width="176" height="30.8" rx="5"/><text class="lt" x="168" y="1661.1">第八条 房屋的转让与转租</text></g>
<g id="d1"><rect class="lf" x="414" y="1843.2" width="301" height="49.6" rx="5"/><text class="lt" x="420" y="1863.7"><tspan x="420">2、甲方有以下行为之一的，乙方有权解除合</tspan><tspan x="420" dy="18.8">同：</tspan></text></g>
<g id="d2"><rect class="lf" x="86" y="1803.2" width="301" height="49.6" rx="5"/><text class="lt" x="92" y="1823.7"><tspan x="92">(1)不能提供房屋或所提供房屋不符合约定条</tspan><tspan x="92" dy="18.8">件，严重影响居住。</tspan></text></g>
<g id="d3"><rect class="lf" x="86" y="1885.2" width="301" height="49.6" rx="5"/><text class="lt" x="92" y="1905.7"><tspan x="92">(2)甲方未尽房屋修缮义务，严重影响居住的</tspan><tspan x="92" dy="18.8">。</tspan></text></g>
<g id="e1"><rect class="lf" x="511" y="2156.6" width="204" height="30.8" rx="5"/><text class="lt" x="517" y="2177.1">第十条 房屋交付及收回的验收</text></g>
<g id="e2"><rect class="lf" x="423" y="2439.6" width="219" height="30.8" rx="5"/><text class="lt" x="429" y="2460.1">第十一条 甲方违约责任处理规定</text></g>
<g id="f1"><rect class="lf" x="292" y="2902.2" width="300" height="49.6" rx="5"/><text class="lt" x="298" y="2922.7"><tspan x="298">(1)未经甲方书面同意，将房屋转租、转借给</tspan><tspan x="298" dy="18.8">他人使用的;</tspan></text></g>
<g id="f2"><rect class="lf" x="292" y="2984.2" width="300" height="49.6" rx="5"/><text class="lt" x="298" y="3004.7"><tspan x="298">(2)未经甲方书面同意，拆改变动房屋结构或</tspan><tspan x="298" dy="18.8">损坏房屋;</tspan></text></g>
<g id="f3"><rect class="lf" x="292" y="3066.2" width="300" height="49.6" rx="5"/><text class="lt" x="298" y="3086.7"><tspan x="298">(3)改变本合同规定的租赁用途或利用该房屋</tspan><tspan x="298" dy="18.8">进行违法活动的;</tspan></text></g>
<g id="f4"><rect class="lf" x="384" y="3148.6" width="208" height="30.8" rx="5"/><text class="lt" x="390" y="3169.1">(4)拖欠房租累计 个月以上的。</text></g>
<g id="g1"><rect class="lf" x="509" y="3463.6" width="133" height="30.8" rx="5"/><text class="lt" x="515" y="3484.1">第十三条 免责条件</text></g>
<g id="h1"><rect class="lf" x="414" y="3704.4" width="301" height="87.2" rx="5"/><text class="lt" x="420" y="3724.9"><tspan x="420">第十四条 本合同未尽事宜，经甲、乙双方协</tspan><tspan x="420" dy="18.8">商一致，可订立补充条款。补充条款及附件均</tspan><tspan x="420" dy="18.8">为本合同组成部分，与本合同具有同等法律效</tspan><tspan x="420" dy="18.8">力。</tspan></text></g>
<g id="h2"><rect class="lf" x="583" y="3824.6" width="132" height="30.8" rx="5"/><text class="lt" x="589" y="3845.1">第十五条 争议解决</text></g>
<g id="h3"><rect class="lf" x="414" y="3886.8" width="301" height="68.4" rx="5"/><text class="lt" x="420" y="3907.3"><tspan x="420">本合同项下发生的争议，由双方当事人协商或</tspan><tspan x="420" dy="18.8">申请调解;协商或调解解决不成的，按下列第</tspan><tspan x="420" dy="18.8">种方式解决(以下两种方式只能选择一种)</tspan></text></g>
<g id="h4"><rect class="lf" x="555" y="4005.6" width="160" height="30.8" rx="5"/><text class="lt" x="561" y="4026.1">第十六条 其他约定事项</text></g>
<g id="i1"><rect class="lf" x="741" y="4087.6" width="256" height="30.8" rx="5"/><text class="lt" x="747" y="4108.1">第十七条 本合同自双方签(章)后生效。</text></g>
<g id="i2"><rect class="lf" x="697" y="4150.2" width="300" height="49.6" rx="5"/><text class="lt" x="703" y="4170.7"><tspan x="703">第十八条 本合同及附件一式 份，由甲、乙双</tspan><tspan x="703" dy="18.8">方各执 份。具有同等法律效力。</tspan></text></g>
<g id="i3"><rect class="lf" x="893" y="4232.6" width="104" height="30.8" rx="5"/><text class="lt" x="899" y="4253.1">甲方： 乙方：</text></g>
<g id="i4"><rect class="lf" x="755" y="4296.6" width="242" height="30.8" rx="5"/><text class="lt" x="761" y="4317.1">身份证号(或营业执照号) 身份证号：</text></g>
<g id="i5"><rect class="lf" x="893" y="4360.6" width="104" height="30.8" rx="5"/><text class="lt" x="899" y="4381.1">电话： 电话：</text></g>
<g id="i6"><rect class="lf" x="893" y="4423.6" width="104" height="30.8" rx="5"/><text class="lt" x="899" y="4444.1">传真： 传真：</text></g>
<g id="i7"><rect class="lf" x="893" y="4487.6" width="104" height="30.8" rx="5"/><text class="lt" x="899" y="4508.1">地址： 地址：</text></g>
<g id="i8"><rect class="lf" x="837" y="4550.6" width="160" height="30.8" rx="5"/><text class="lt" x="843" y="4571.1">邮政编码： 邮政编码：</text></g>
<g id="i9"><rect class="lf" x="912" y="4614.6" width="85" height="30.8" rx="5"/><text class="lt" x="918" y="4635.1">房产证号：</text></g>
<g id="i10"><rect class="lf" x="784" y="4677.6" width="213" height="30.8" rx="5"/><text class="lt" x="790" y="4698.1">房地产经纪机构资质证书号码：</text></g>
<g id="i11"><rect class="lf" x="912" y="4741.6" width="85" height="30.8" rx="5"/><text class="lt" x="918" y="4762.1">签约代表：</text></g>
<g id="i11a"><rect class="lf" x="612" y="4741.6" width="272" height="30.8" rx="5"/><text class="lt" x="618" y="4762.1">签约日期： 年 月 日 签约日期： 年 月 日</text></g>
<g id="i12"><rect class="lf" x="837" y="4868.6" width="160" height="30.8" rx="5"/><text class="lt" x="843" y="4889.1">签约地点： 签约地点：</text></g>
<g id="i12a"><rect class="lf" x="609" y="4804.6" width="199" height="30.8" rx="5"/><text class="lt" x="615" y="4825.1">广州房屋租赁合同范本简单版</text></g>
<g id="i12b"><rect class="lf" x="624" y="4868.6" width="184" height="30.8" rx="5"/><text class="lt" x="630" y="4889.1">出租方(以下简称甲方)____</text></g>
<g id="i12c"><rect class="lf" x="624" y="4932.6" width="184" height="30.8" rx="5"/><text class="lt" x="630" y="4953.1">承租方(以下简称乙方)____</text></g>
<g id="i13"><rect class="lf" x="697" y="5830.6" width="300" height="30.8" rx="5"/><text class="lt" x="703" y="5851.1">甲、乙双方就下列房屋的租赁达成如下协议：</text></g>
<g id="j1"><rect class="lf" x="509" y="4995.6" width="161" height="30.8" rx="5"/><text class="lt" x="515" y="5016.1">第一条 房屋基本情况。</text></g>
<g id="j2"><rect class="lf" x="369" y="5059.2" width="301" height="49.6" rx="5"/><text class="lt" x="375" y="5079.7"><tspan x="375">甲方房屋(以下简称该房屋)坐落于广州市天河</tspan><tspan x="375" dy="18.8">岗顶下___层,</tspan></text></g>
<g id="j3"><rect class="lf" x="537" y="5142.6" width="133" height="30.8" rx="5"/><text class="lt" x="543" y="5163.1">第二条 房屋用途。</text></g>
<g id="j4"><rect class="lf" x="498" y="5204.6" width="172" height="30.8" rx="5"/><text class="lt" x="504" y="5225.1">该房屋用途为租赁住房。</text></g>
<g id="j5"><rect class="lf" x="369" y="5268.2" width="301" height="49.6" rx="5"/><text class="lt" x="375" y="5288.7"><tspan x="375">除双方另有约定外，乙方不得任意改变房屋用</tspan><tspan x="375" dy="18.8">途。</tspan></text></g>
<g id="j6"><rect class="lf" x="537" y="5350.6" width="133" height="30.8" rx="5"/><text class="lt" x="543" y="5371.1">第三条 租赁期限。</text></g>
<g id="j7"><rect class="lf" x="369" y="5414.2" width="301" height="49.6" rx="5"/><text class="lt" x="375" y="5434.7"><tspan x="375">租赁期限自___年___月___日至___年___月___</tspan><tspan x="375" dy="18.8">日止。</tspan></text></g>
<g id="j8"><rect class="lf" x="566" y="5496.6" width="104" height="30.8" rx="5"/><text class="lt" x="572" y="5517.1">第四条 租金。</text></g>
<g id="j9"><rect class="lf" x="418" y="5559.6" width="252" height="30.8" rx="5"/><text class="lt" x="424" y="5580.1">该房屋月租金为(人民币)千百拾元整。</text></g>
<g id="j10"><rect class="lf" x="369" y="5623.8" width="301" height="68.4" rx="5"/><text class="lt" x="375" y="5644.3"><tspan x="375">租赁期间，如遇到国家有关政策调整，则按新</tspan><tspan x="375" dy="18.8">政策规定调整租金标准;除此之外，出租方不</tspan><tspan x="375" dy="18.8">得以任何理由任意调整租金。</tspan></text></g>
<g id="j11"><rect class="lf" x="537" y="5724.6" width="133" height="30.8" rx="5"/><text class="lt" x="543" y="5745.1">第五条 付款方式。</text></g>
<g id="j12"><rect class="lf" x="474" y="5787.6" width="196" height="30.8" rx="5"/><text class="lt" x="480" y="5808.1">乙方按(季)支付租金给甲方。</text></g>
<g id="j13"><rect class="lf" x="509" y="5851.6" width="161" height="30.8" rx="5"/><text class="lt" x="515" y="5872.1">第六条 交付房屋期限。</text></g>
<g id="j14"><rect class="lf" x="369" y="5915.2" width="301" height="49.6" rx="5"/><text class="lt" x="375" y="5935.7"><tspan x="375">甲方应于本合同生效之日起日内，将该房屋交</tspan><tspan x="375" dy="18.8">付给乙方。</tspan></text></g>
<g id="j15"><rect class="lf" x="451" y="5997.6" width="219" height="30.8" rx="5"/><text class="lt" x="457" y="6018.1">第七条 甲方对房屋产权的承诺。</text></g>
<g id="j16"><rect class="lf" x="369" y="6060.6" width="301" height="124.8" rx="5"/><text class="lt" x="375" y="6081.1"><tspan x="375">甲方保证在交易时该房屋没有产权纠纷;除补</tspan><tspan x="375" dy="18.8">充协议另有约定外，有关按揭、抵押债务、税</tspan><tspan x="375" dy="18.8">项及租金等，甲方均在交付房屋前办妥。交易</tspan><tspan x="375" dy="18.8">后如有上述未清事项，由甲方承担全部责任，</tspan><tspan x="375" dy="18.8">由此给乙方造成经济损失的，由甲方负责赔偿</tspan><tspan x="375" dy="18.8">。</tspan></text></g>
<g id="j17"><rect class="lf" x="509" y="6216.6" width="161" height="30.8" rx="5"/><text class="lt" x="515" y="6237.1">第八条 维修养护责任。</text></g>
<g id="j18"><rect class="lf" x="369" y="6279.8" width="301" height="68.4" rx="5"/><text class="lt" x="375" y="6300.3"><tspan x="375">租赁期间，甲方对房屋及其附着设施每隔六个</tspan><tspan x="375" dy="18.8">月检查、修缮一次，乙方应予积极协助，不得</tspan><tspan x="375" dy="18.8">阻挠施工。</tspan></text></g>
<g id="j19"><rect class="lf" x="369" y="6380.2" width="301" height="49.6" rx="5"/><text class="lt" x="375" y="6400.7"><tspan x="375">正常的房屋大修理费用由甲方承担;日常的房</tspan><tspan x="375" dy="18.8">屋维修费用由乙承担。</tspan></text></g>
<g id="j20"><rect class="lf" x="369" y="6462.8" width="301" height="68.4" rx="5"/><text class="lt" x="375" y="6483.3"><tspan x="375">因乙方管理使用不善造成房屋及其相连设备的</tspan><tspan x="375" dy="18.8">损失和维修费用，由乙方承担并责任赔偿损失</tspan><tspan x="375" dy="18.8">。</tspan></text></g>
<g id="j21"><rect class="lf" x="369" y="6563.8" width="301" height="68.4" rx="5"/><text class="lt" x="375" y="6584.3"><tspan x="375">租赁期间，防火安全，门前三包，综合治理及</tspan><tspan x="375" dy="18.8">安全、保卫等工作，乙方应执行当地有关部门</tspan><tspan x="375" dy="18.8">规定并承担全部责任和服从甲方监督检查。</tspan></text></g>
<g id="j22"><rect class="lf" x="408" y="6664.6" width="262" height="30.8" rx="5"/><text class="lt" x="414" y="6685.1">第九条 关于房屋租赁期间的有关费用。</text></g>
<g id="i14"><rect class="lf" x="725" y="6728.6" width="272" height="30.8" rx="5"/><text class="lt" x="731" y="6749.1">在房屋租赁期间，以下费用由乙方支付：</text></g>
<g id="k1"><rect class="lf" x="798" y="6864.6" width="117" height="30.8" rx="5"/><text class="lt" x="804" y="6885.1">第十条 房屋押金</text></g>
<g id="k2"><rect class="lf" x="614" y="6929.2" width="301" height="49.6" rx="5"/><text class="lt" x="620" y="6949.7"><tspan x="620">甲、乙双方自本合同签订之日起，由乙方支付</tspan><tspan x="620" dy="18.8">甲方(相当于一个月房租的金额)作为押金。</tspan></text></g>
<g id="k3"><rect class="lf" x="768" y="7011.6" width="147" height="30.8" rx="5"/><text class="lt" x="774" y="7032.1">第十一条 租赁期满。</text></g>

<g id="m1"><rect class="lf" x="1912" y="2416.8" width="299" height="68.4" rx="5"/><text class="lt" x="1918" y="2437.3"><tspan x="1918">乙方如要求续租，则必须在租赁期满 个月之</tspan><tspan x="1918" dy="18.8">前书面通知甲方，经甲方同意后，重新签订租</tspan><tspan x="1918" dy="18.8">赁合同。</tspan></text></g>
<g id="m2"><rect class="lf" x="1912" y="2519.6" width="159" height="30.8" rx="5"/><text class="lt" x="1918" y="2540.1">第五条 租金及支付方式</text></g>
<g id="m3"><rect class="lf" x="1985" y="2582.2" width="299" height="49.6" rx="5"/><text class="lt" x="1991" y="2602.7"><tspan x="1991">甲方提出进行维修须提前 日书面通知乙方，</tspan><tspan x="1991" dy="18.8">乙方应积极协助配合。</tspan></text></g>
<g id="m4"><rect class="lf" x="1985" y="2664.2" width="299" height="49.6" rx="5"/><text class="lt" x="1991" y="2684.7"><tspan x="1991">乙方向甲方提出维修请求后，甲方应及时提供</tspan><tspan x="1991" dy="18.8">维修服务。</tspan></text></g>
<g id="m5"><rect class="lf" x="1985" y="2745.2" width="299" height="49.6" rx="5"/><text class="lt" x="1991" y="2765.7"><tspan x="1991">对乙方的装修装饰部分甲方不负有修缮的义务</tspan><tspan x="1991" dy="18.8">。</tspan></text></g>
<g id="m6"><rect class="lf" x="1937" y="3005.6" width="215" height="30.8" rx="5"/><text class="lt" x="1943" y="3026.1">第九条 合同的变更、解除与终止</text></g>
<g id="n1"><rect class="lf" x="1937" y="3099.2" width="299" height="49.6" rx="5"/><text class="lt" x="1943" y="3119.7"><tspan x="1943">(1)未经甲方书面同意，转租、转借承租房屋</tspan><tspan x="1943" dy="18.8">。</tspan></text></g>
<g id="n2"><rect class="lf" x="1937" y="3181.6" width="288" height="30.8" rx="5"/><text class="lt" x="1943" y="3202.1">(2)未经甲方书面同意，拆改变动房屋结构。</text></g>
<g id="n3"><rect class="lf" x="1937" y="3244.2" width="299" height="49.6" rx="5"/><text class="lt" x="1943" y="3264.7"><tspan x="1943">(3)损坏承租房屋，在甲方提出的合理期限内</tspan><tspan x="1943" dy="18.8">仍未修复的。</tspan></text></g>
<g id="n4"><rect class="lf" x="1937" y="3326.2" width="299" height="49.6" rx="5"/><text class="lt" x="1943" y="3346.7"><tspan x="1943">(4)未经甲方书面同意，改变本合同约定的房</tspan><tspan x="1943" dy="18.8">屋租赁用途。</tspan></text></g>
<g id="n5"><rect class="lf" x="1937" y="3408.2" width="299" height="49.6" rx="5"/><text class="lt" x="1943" y="3428.7"><tspan x="1943">(5)利用承租房屋存放危险物品或进行违法活</tspan><tspan x="1943" dy="18.8">动。</tspan></text></g>
<g id="n6"><rect class="lf" x="1937" y="3490.2" width="299" height="49.6" rx="5"/><text class="lt" x="1943" y="3510.7"><tspan x="1943">(6)逾期未交纳按约定应当由乙方交纳的各项</tspan><tspan x="1943" dy="18.8">费用，已经给甲方造成严重损害的。</tspan></text></g>
<g id="n7"><rect class="lf" x="1937" y="3572.6" width="190" height="30.8" rx="5"/><text class="lt" x="1943" y="3593.1">(7)拖欠房租累计 个月以上。</text></g>
<g id="n8"><rect class="lf" x="1937" y="4306.6" width="158" height="30.8" rx="5"/><text class="lt" x="1943" y="4327.1">第十二条 乙方违约责任</text></g>
<g id="p1"><rect class="lf" x="1960" y="5312.6" width="146" height="30.8" rx="5"/><text class="lt" x="1966" y="5333.1">第十二条 违约责任。</text></g>
<g id="p2"><rect class="lf" x="1960" y="5374.8" width="299" height="68.4" rx="5"/><text class="lt" x="1966" y="5395.3"><tspan x="1966">租赁期间双方必须信守合同，任何一方违反本</tspan><tspan x="1966" dy="18.8">合同的规定，按年度须向对方交纳三个月租金</tspan><tspan x="1966" dy="18.8">作为违约金。</tspan></text></g>
<g id="p3"><rect class="lf" x="1960" y="5475" width="299" height="106" rx="5"/><text class="lt" x="1966" y="5495.5"><tspan x="1966">第十三条 因不可抗力原因导致该房屋毁损和</tspan><tspan x="1966" dy="18.8">造成损失的，双方互不承担责任。 第十四条</tspan><tspan x="1966" dy="18.8">本合同未尽事项，由甲、乙双方另行议定，并</tspan><tspan x="1966" dy="18.8">签订补充协议。补充协议与本合同不一致的，</tspan><tspan x="1966" dy="18.8">以补充协议为准。</tspan></text></g>
<g id="p4"><rect class="lf" x="1960" y="5611.8" width="299" height="68.4" rx="5"/><text class="lt" x="1966" y="5632.3"><tspan x="1966">第十五条 本合同之附件均为本合同不可分割</tspan><tspan x="1966" dy="18.8">之一部分。本合同及其附件内，空格部分填写</tspan><tspan x="1966" dy="18.8">的文字与印刷文字具有同等效力。</tspan></text></g>
<g id="p5"><rect class="lf" x="1960" y="5713.8" width="299" height="68.4" rx="5"/><text class="lt" x="1966" y="5734.3"><tspan x="1966">本合同及其附件和补充协议中未规定的事项，</tspan><tspan x="1966" dy="18.8">均遵照中华人民共和国有关法律、法规和政策</tspan><tspan x="1966" dy="18.8">执行。</tspan></text></g>
<g id="p6"><rect class="lf" x="1960" y="5813.6" width="131" height="30.8" rx="5"/><text class="lt" x="1966" y="5834.1">第十六条 其他约定</text></g>
<g id="p7"><rect class="lf" x="1960" y="5887.6" width="209" height="30.8" rx="5"/><text class="lt" x="1966" y="5908.1">(一)出租方为已提供物品如下：</text></g>
<g id="p7a"><rect class="lf" x="2197" y="5878.2" width="299" height="49.6" rx="5"/><text class="lt" x="2203" y="5898.7"><tspan x="2203">(1)床铺一个、(2)柜子一个、(3)空调一个、(4</tspan><tspan x="2203" dy="18.8">)热水器一个、(5)桌子一个、(6)电脑桌一个。</tspan></text></g>
<g id="p8"><rect class="lf" x="1960" y="6083.6" width="195" height="30.8" rx="5"/><text class="lt" x="1966" y="6104.1">(二)当前的水、电等表状况：</text></g>
<g id="p8a"><rect class="lf" x="2183" y="5960.4" width="301" height="87.2" rx="5"/><text class="lt" x="2189" y="5980.9"><tspan x="2189">(1)水表现为： 度;(2)电表现为： 度;(3)煤气表</tspan><tspan x="2189" dy="18.8">现为： 度。 第十七条 本合同在履行中发生争</tspan><tspan x="2189" dy="18.8">议，由甲、乙双方协商解决。协商不成时，甲</tspan><tspan x="2189" dy="18.8">、乙双方可向人民法院起诉。</tspan></text></g>
<g id="p8b"><rect class="lf" x="2183" y="6077.8" width="301" height="68.4" rx="5"/><text class="lt" x="2189" y="6098.3"><tspan x="2189">第十八条 本合同自甲、乙双方签字之日起生</tspan><tspan x="2189" dy="18.8">效，一式三份，甲、乙双方各执一份，具有同</tspan><tspan x="2189" dy="18.8">等效力，中介执一份备案。</tspan></text></g>
<g id="p8c"><rect class="lf" x="2183" y="6179.6" width="214" height="30.8" rx="5"/><text class="lt" x="2189" y="6200.1">甲方(签章)____ 乙方(签章)____</text></g>
</g>
</g>
</svg>
